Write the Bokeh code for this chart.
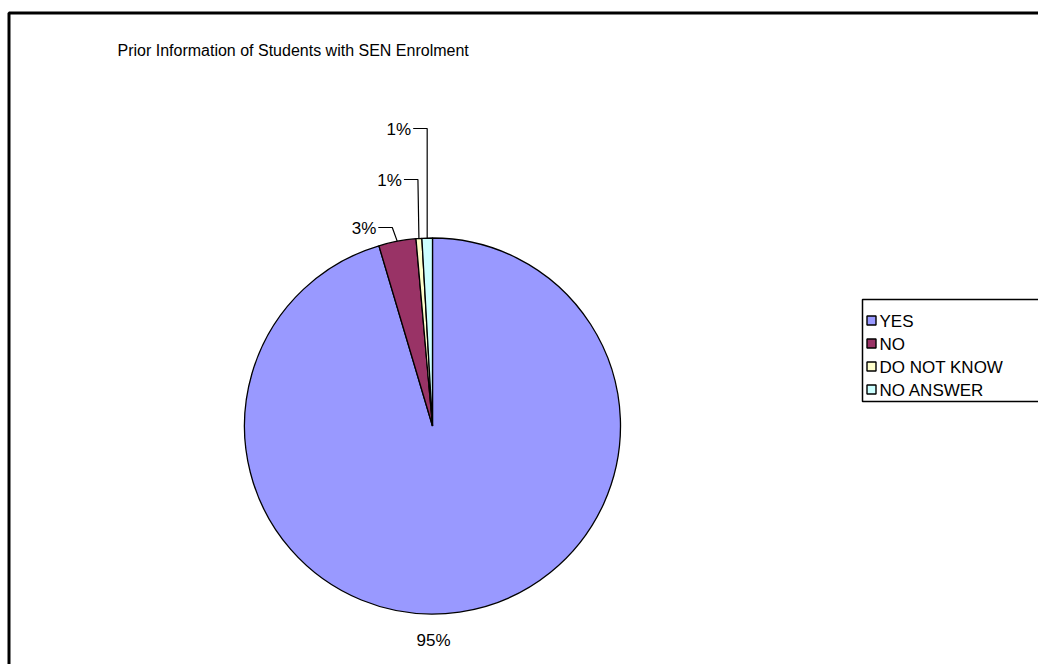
import math
from bokeh.plotting import figure
from bokeh.models import Range1d, ColumnDataSource
from bokeh.embed import file_html
from bokeh.resources import INLINE
from bokeh.core.properties import value

# ---- data ----
categories = ["YES", "NO", "DO NOT KNOW", "NO ANSWER"]
shares = [95.4, 3.2, 0.5, 0.9]
pct_labels = ["95%", "3%", "1%", "1%"]
colors = ["#9999FF", "#993366", "#FFFFCC", "#CCFFFF"]
chart_title = "Prior Information of Students with SEN Enrolment"

# ---- layout (pixels, top-left origin) ----
W, H = 1038, 664
FONT = "Liberation Sans"
def Y(py):
    return H - py

cx, cy, R = 432, 425.5, 188

p = figure(width=W, height=H, x_range=Range1d(0, W), y_range=Range1d(0, H),
           output_backend="svg", toolbar_location=None, min_border=0)
p.axis.visible = False
p.grid.visible = False
p.outline_line_color = None
p.background_fill_color = "white"
p.border_fill_color = "white"

# outer chart border (cropped at right and bottom)
p.line(x=[8.5, 8.5, W + 10], y=[Y(H + 10), Y(12.5), Y(12.5)], line_color="black", line_width=3)

# title
p.text(x=[117], y=[Y(50)], text=[chart_title], text_font=value(FONT), text_font_size="16px",
       text_baseline="middle", text_align="left", text_color="black")

# pie wedges
total = sum(shares)
starts, ends, mids = [], [], []
c = 0.0
for s in shares:
    a0 = math.pi / 2 - 2 * math.pi * c / total
    c += s
    a1 = math.pi / 2 - 2 * math.pi * c / total
    starts.append(a0)
    ends.append(a1)
    mids.append((a0 + a1) / 2)

src = ColumnDataSource(dict(x=[cx] * len(shares), y=[Y(cy)] * len(shares),
                            start=starts, end=ends, color=colors, cat=categories))
p.wedge(x="x", y="y", radius=R, start_angle="start", end_angle="end", direction="clock",
        fill_color="color", line_color="black", line_width=1.3, source=src)

# data labels
p.text(x=[cx + 1], y=[Y(640)], text=[pct_labels[0]], text_font=value(FONT), text_font_size="17px",
       text_align="center", text_baseline="middle", text_color="black")

label_row_y = [None, 227, 179, 128]
elbow_shift = [None, 5, 1, 0]
for i in range(1, len(shares)):
    ex = cx + R * math.cos(mids[i])
    ey = cy - R * math.sin(mids[i])
    kx = ex - elbow_shift[i]
    ky = label_row_y[i]
    p.line(x=[kx - 14, kx, ex], y=[Y(ky), Y(ky), Y(ey)], line_color="black", line_width=1.2)
    p.text(x=[kx - 16], y=[Y(ky + 1)], text=[pct_labels[i]], text_font=value(FONT),
           text_font_size="17px", text_align="right", text_baseline="middle", text_color="black")

# legend
lx, ly_top, ly_bot = 862, 299, 401
p.line(x=[W + 10, lx, lx, W + 10], y=[Y(ly_top), Y(ly_top), Y(ly_bot), Y(ly_bot)],
       line_color="black", line_width=1.5)
item_y = [320, 343, 366, 389]
p.rect(x=[871] * 4, y=[Y(v) for v in item_y], width=9, height=9,
       fill_color=colors, line_color="black", line_width=1.4)
p.text(x=[879] * 4, y=[Y(v + 1) for v in item_y], text=categories, text_font=value(FONT),
       text_font_size="17px", text_align="left", text_baseline="middle", text_color="black")

open("out.html", "w").write(file_html(p, INLINE))
